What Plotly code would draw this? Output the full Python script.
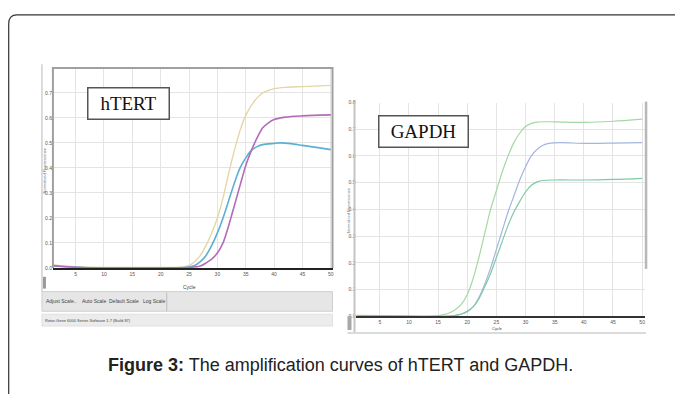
import plotly.graph_objects as go

# page body has an 8px margin: the figure is drawn from (8, 8)
OFF = 8
W, H = 683 - OFF, 394 - OFF

# ---------------- data ----------------
# hTERT panel
htert_yellow_cycle = [1, 3, 5, 10, 15, 20, 24, 25, 26, 27, 28, 29, 30, 31, 32, 33, 34, 35, 36, 37, 38, 39, 40, 42, 45, 50]
htert_yellow_value = [0.012, 0.008, 0.005, 0.002, 0.002, 0.002, 0.004, 0.01, 0.025, 0.05, 0.09, 0.14, 0.20, 0.28, 0.38, 0.47, 0.55, 0.61, 0.65, 0.68, 0.70, 0.71, 0.717, 0.722, 0.725, 0.73]

htert_purple_cycle = [1, 5, 10, 20, 25, 27, 28, 29, 30, 31, 32, 33, 34, 35, 36, 37, 38, 39, 40, 42, 45, 50]
htert_purple_value = [0.01, 0.003, 0.0, 0.0, 0.002, 0.008, 0.02, 0.035, 0.06, 0.10, 0.17, 0.25, 0.33, 0.41, 0.47, 0.52, 0.56, 0.58, 0.593, 0.603, 0.608, 0.612]

htert_blue_cycle = [1, 5, 10, 20, 25, 26, 27, 28, 29, 30, 31, 32, 33, 34, 35, 36, 37, 38, 40, 41, 43, 45, 48, 50]
htert_blue_value = [0.008, 0.003, 0.0, 0.0, 0.004, 0.01, 0.025, 0.05, 0.09, 0.14, 0.20, 0.27, 0.34, 0.40, 0.44, 0.47, 0.485, 0.493, 0.498, 0.50, 0.497, 0.49, 0.48, 0.473]

# GAPDH panel
gapdh_green_cycle = [1, 5, 10, 14, 15, 16, 17, 18, 19, 20, 21, 22, 23, 24, 25, 26, 27, 28, 29, 30, 31, 32, 35, 40, 45, 50]
gapdh_green_value = [0.003, 0.002, 0.0, 0.0, 0.002, 0.006, 0.013, 0.025, 0.045, 0.08, 0.14, 0.22, 0.31, 0.40, 0.47, 0.54, 0.60, 0.65, 0.685, 0.71, 0.722, 0.727, 0.728, 0.726, 0.73, 0.738]

gapdh_blue_cycle = [1, 10, 17, 18, 19, 20, 21, 22, 23, 24, 25, 26, 27, 28, 29, 30, 31, 32, 33, 34, 36, 40, 45, 50]
gapdh_blue_value = [0.002, 0.0, 0.0, 0.003, 0.008, 0.018, 0.035, 0.07, 0.12, 0.18, 0.25, 0.32, 0.39, 0.45, 0.51, 0.56, 0.60, 0.625, 0.64, 0.647, 0.65, 0.647, 0.648, 0.65]

gapdh_teal_cycle = [1, 17, 18, 19, 20, 21, 22, 23, 24, 25, 26, 27, 28, 29, 30, 31, 32, 33, 35, 40, 45, 50]
gapdh_teal_value = [0.002, 0.0, 0.003, 0.008, 0.018, 0.035, 0.065, 0.11, 0.16, 0.22, 0.28, 0.34, 0.39, 0.43, 0.465, 0.49, 0.503, 0.508, 0.51, 0.51, 0.512, 0.516]

x_ticks = [5, 10, 15, 20, 25, 30, 35, 40, 45, 50]
left_y_ticks = [0.0, 0.1, 0.2, 0.3, 0.4, 0.5, 0.6, 0.7]
right_y_ticks = [0.0, 0.1, 0.2, 0.3, 0.4, 0.5, 0.6, 0.7, 0.8]

caption = "<b>Figure 3:</b> The amplification curves of hTERT and GAPDH."


def px(x):
    return (x - OFF) / W


def py(y):
    return 1 - (y - OFF) / H


fig = go.Figure()

def add(xs, ys, color, xa, ya, width=1.4):
    fig.add_trace(go.Scatter(x=xs, y=ys, mode="lines", xaxis=xa, yaxis=ya,
                             line=dict(color=color, width=width, shape="spline", smoothing=0.8),
                             hoverinfo="skip", showlegend=False))

add(htert_yellow_cycle, htert_yellow_value, "#e4d6a6", "x", "y")
add(htert_blue_cycle, htert_blue_value, "#5cb0d6", "x", "y", 1.6)
add(htert_purple_cycle, htert_purple_value, "#b46cb8", "x", "y", 1.6)

add(gapdh_green_cycle, gapdh_green_value, "#a4d8a2", "x2", "y2", 1.2)
add(gapdh_blue_cycle, gapdh_blue_value, "#a2b6de", "x2", "y2", 1.2)
add(gapdh_teal_cycle, gapdh_teal_value, "#7ecaa6", "x2", "y2", 1.2)

tickfont = dict(family="Liberation Sans", size=5, color="#555")
grid = "#e4e4e4"

fig.update_layout(
    width=W, height=H,
    margin=dict(l=0, r=0, t=0, b=0),
    paper_bgcolor="white", plot_bgcolor="white",
    xaxis=dict(domain=[px(53), px(333)], range=[1, 50.3], tickvals=x_ticks, ticks="",
               showgrid=True, gridcolor=grid, gridwidth=1, zeroline=False,
               showline=True, linecolor="#222", linewidth=2, tickfont=tickfont,
               anchor="y", fixedrange=True),
    yaxis=dict(domain=[py(269), py(67)], range=[0, 0.795], tickvals=left_y_ticks,
               tickformat=".1f", ticks="", showgrid=True, gridcolor=grid, zeroline=False,
               showline=False, tickfont=tickfont, anchor="x", fixedrange=True),
    xaxis2=dict(domain=[px(357), px(646)], range=[1, 50.5], tickvals=x_ticks, ticks="",
                showgrid=True, gridcolor=grid, zeroline=False,
                showline=True, linecolor="#333", linewidth=2, tickfont=tickfont,
                anchor="y2", fixedrange=True),
    yaxis2=dict(domain=[py(318), py(101)], range=[0, 0.8], tickvals=right_y_ticks,
                tickformat=".1f", ticks="", showgrid=True, gridcolor=grid, zeroline=False,
                showline=False, tickfont=tickfont, anchor="x2", fixedrange=True),
)

shapes = []
# outer page border (rounded corner, open to the right and bottom)
shapes.append(dict(type="path", xref="paper", yref="paper",
                   path=f"M {px(8.7)},{py(400)} L {px(8.7)},{py(21)} Q {px(8.7)},{py(12)} {px(17)},{py(12)} L {px(690)},{py(12)}",
                   line=dict(color="#333", width=1.2)))
# left screenshot frame
shapes.append(dict(type="line", xref="paper", yref="paper", x0=px(42), x1=px(42), y0=py(62), y1=py(293),
                   line=dict(color="#d0d0d0", width=1.5)))
shapes.append(dict(type="path", xref="paper", yref="paper",
                   path=f"M {px(53)},{py(269)} L {px(53)},{py(66)} L {px(333)},{py(66)} L {px(333)},{py(269)}",
                   line=dict(color="#a0a0a0", width=2)))
# toolbar
shapes.append(dict(type="rect", xref="paper", yref="paper", x0=px(42), x1=px(333), y0=py(313), y1=py(293),
                   fillcolor="#e6e6e6", line=dict(color="#cfcfcf", width=1)))
shapes.append(dict(type="line", xref="paper", yref="paper", x0=px(167), x1=px(167), y0=py(313), y1=py(294),
                   line=dict(color="#bdbdbd", width=1)))
shapes.append(dict(type="rect", xref="paper", yref="paper", x0=px(42), x1=px(333), y0=py(328), y1=py(316),
                   fillcolor="#ececec", line=dict(color="#e0e0e0", width=1)))
shapes.append(dict(type="rect", xref="paper", yref="paper", x0=px(43), x1=px(46), y0=py(290), y1=py(278),
                   fillcolor="#9a9a9a", line=dict(width=0)))
# right screenshot frame
shapes.append(dict(type="line", xref="paper", yref="paper", x0=px(355), x1=px(355), y0=py(100), y1=py(334),
                   line=dict(color="#c4c4c4", width=2)))
shapes.append(dict(type="line", xref="paper", yref="paper", x0=px(348), x1=px(647), y0=py(335), y1=py(335),
                   line=dict(color="#cfcfcf", width=1.5)))
shapes.append(dict(type="line", xref="paper", yref="paper", x0=px(647), x1=px(647), y0=py(100), y1=py(270),
                   line=dict(color="#b8b8b8", width=2.5)))
shapes.append(dict(type="rect", xref="paper", yref="paper", x0=px(348), x1=px(352), y0=py(332), y1=py(318),
                   fillcolor="#a8a8a8", line=dict(width=0)))
fig.update_layout(shapes=shapes)

small = dict(family="Liberation Sans", size=5, color="#444")
ann = []

def note(x, y, text, font, **kw):
    d = dict(x=px(x), y=py(y), xref="paper", yref="paper", text=text, showarrow=False,
             font=font, xanchor="center", yanchor="middle")
    d.update(kw)
    ann.append(d)

note(129, 102, "hTERT", dict(family="Liberation Serif", size=19, color="#111"),
     bgcolor="white", bordercolor="#555", borderwidth=1.5, width=78, height=28)
note(424, 130, "GAPDH", dict(family="Liberation Serif", size=19, color="#111"),
     bgcolor="white", bordercolor="#555", borderwidth=1.5, width=86, height=28)
note(190, 288, "Cycle", small)
note(498, 330.5, "Cycle", dict(family="Liberation Sans", size=4, color="#444"))
note(45, 170, "Normalised Fluorescence", dict(family="Liberation Sans", size=4, color="#666"), textangle=-90)
note(349, 210, "Normalised Fluorescence", dict(family="Liberation Sans", size=4, color="#777"), textangle=-90)
for label, cx in [("Adjust Scale..", 62), ("Auto Scale", 94), ("Default Scale", 124), ("Log Scale", 154)]:
    note(cx, 303, label, small)
note(43, 322, "Rotor-Gene 6000 Series Software 1.7 (Build 87)",
     dict(family="Liberation Sans", size=4, color="#444"), xanchor="left")
note(341, 368, caption, dict(family="Liberation Sans", size=18, color="#222"))
fig.update_layout(annotations=ann)

fig.write_html("out.html")
